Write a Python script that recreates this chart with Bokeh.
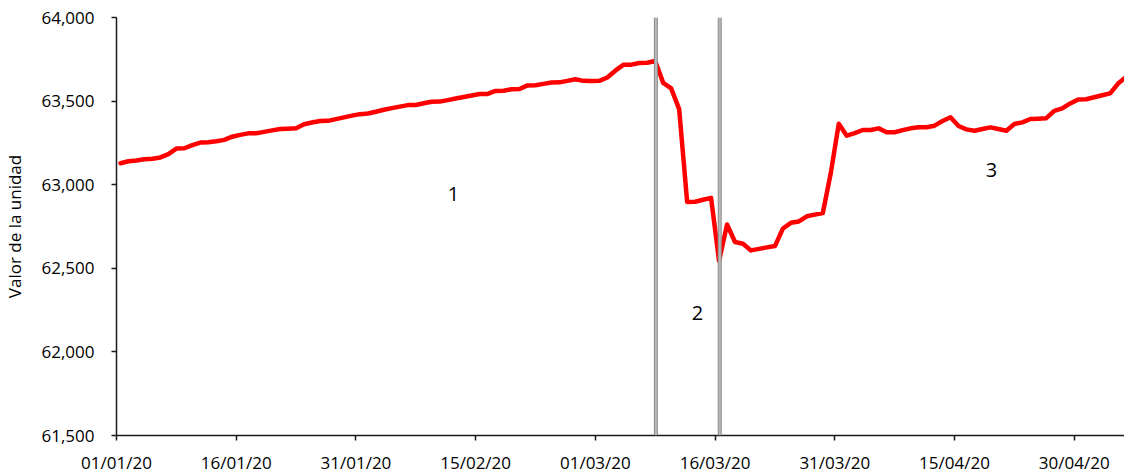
import pandas as pd
from bokeh.plotting import figure
from bokeh.models import (Range1d, FixedTicker, DatetimeTickFormatter, NumeralTickFormatter,
                          Span, Label, ColumnDataSource)
from bokeh.embed import file_html
from bokeh.resources import INLINE

# ---------------- data ----------------
start_date = "2020-01-01"
unit_values = [
    63128, 63140, 63145, 63152, 63155, 63163, 63183, 63216, 63218, 63237,
    63252, 63254, 63260, 63268, 63287, 63298, 63307, 63308, 63316, 63325,
    63333, 63335, 63338, 63362, 63372, 63381, 63382, 63392, 63403, 63413,
    63422, 63426, 63436, 63448, 63458, 63467, 63476, 63477, 63487, 63496,
    63497, 63506, 63516, 63524, 63533, 63542, 63543, 63561, 63562, 63571,
    63572, 63594, 63595, 63603, 63611, 63612, 63621, 63631, 63621, 63620,
    63621, 63641, 63682, 63717, 63718, 63728, 63729, 63740, 63609, 63576,
    63452, 62897, 62898, 62910, 62921, 62544, 62762, 62657, 62647, 62607,
    62616, 62625, 62633, 62738, 62772, 62780, 62811, 62821, 62831, 63070,
    63365, 63293, 63308, 63327, 63327, 63337, 63314, 63314, 63326, 63337,
    63343, 63344, 63353, 63381, 63403, 63351, 63331, 63323, 63333, 63343,
    63333, 63323, 63363, 63373, 63393, 63395, 63398, 63442, 63456, 63486,
    63510, 63511, 63523, 63535, 63546, 63605, 63645,
]
x_tick_dates = ["2020-01-01", "2020-01-16", "2020-01-31", "2020-02-15", "2020-03-01",
                "2020-03-16", "2020-03-31", "2020-04-15", "2020-04-30"]
y_ticks = [61500, 62000, 62500, 63000, 63500, 64000]
phase_break_dates = ["2020-03-08", "2020-03-16"]
phase_labels = ["1", "2", "3"]
phase_label_dates = ["2020-02-12 05:00", "2020-03-13 19:00", "2020-04-19 15:00"]
phase_label_values = [62944, 62232, 63085]
y_title = "Valor de la unidad"

# ---------------- figure ----------------
def ms(d):
    return pd.Timestamp(d).value / 1e6

dates = pd.date_range(start_date, periods=len(unit_values), freq="D")
src = ColumnDataSource(dict(x=dates + pd.Timedelta(hours=12), y=unit_values))

x0 = pd.Timestamp(start_date)
x1 = x0 + pd.Timedelta(days=126.3)

FONT = "Open Sans"
p = figure(width=1124, height=476, x_axis_type="datetime",
           x_range=Range1d(x0, x1), y_range=Range1d(61500, 64000),
           output_backend="svg", toolbar_location=None,
           min_border_left=116, min_border_right=0,
           min_border_top=17, min_border_bottom=39)
p.outline_line_color = None
p.xgrid.visible = False
p.ygrid.visible = False
p.background_fill_color = "white"
p.border_fill_color = "white"

# spans (vertical phase separators)
for d in phase_break_dates:
    loc = ms(pd.Timestamp(d) + pd.Timedelta(hours=14))
    p.add_layout(Span(location=loc, dimension="height", line_color="#8c8c8c", line_width=4))
    p.add_layout(Span(location=loc, dimension="height", line_color="#e6e6e6", line_width=2,
                      line_dash="1 1"))

p.line("x", "y", source=src, line_color="#ff0000", line_width=4.5, line_join="round",
       line_cap="round")

for t, d, v in zip(phase_labels, phase_label_dates, phase_label_values):
    p.add_layout(Label(x=ms(d), y=v, text=t, text_align="center", text_baseline="middle",
                       text_font=FONT, text_font_size="20px", text_color="#000000"))

# axes
xa = p.xaxis[0]
xa.ticker = FixedTicker(ticks=[ms(d) for d in x_tick_dates])
fmt = "%d/%m/%y"
xa.formatter = DatetimeTickFormatter(days=fmt, months=fmt, years=fmt, hours=fmt,
                                     hourmin=fmt, minutes=fmt, minsec=fmt, seconds=fmt,
                                     milliseconds=fmt, microseconds=fmt)
xa.minor_tick_line_color = None
xa.major_tick_in = 0
xa.major_tick_out = 5
xa.major_label_standoff = 10

ya = p.yaxis[0]
ya.ticker = FixedTicker(ticks=y_ticks)
ya.formatter = NumeralTickFormatter(format="0,0")
ya.minor_tick_line_color = None
ya.major_tick_in = 0
ya.major_tick_out = 5
ya.major_label_standoff = 17
ya.axis_label = y_title
ya.axis_label_standoff = 12
ya.axis_label_text_font = FONT
ya.axis_label_text_font_size = "17px"
ya.axis_label_text_font_style = "normal"
ya.axis_label_text_color = "#000000"

for ax in (xa, ya):
    ax.axis_line_color = "#1a1a1a"
    ax.axis_line_width = 1.5
    ax.major_tick_line_color = "#1a1a1a"
    ax.major_tick_line_width = 1.5
    ax.major_label_text_font = FONT
    ax.major_label_text_font_size = "17px"
    ax.major_label_text_color = "#000000"

open("out.html", "w").write(file_html(p, INLINE))
